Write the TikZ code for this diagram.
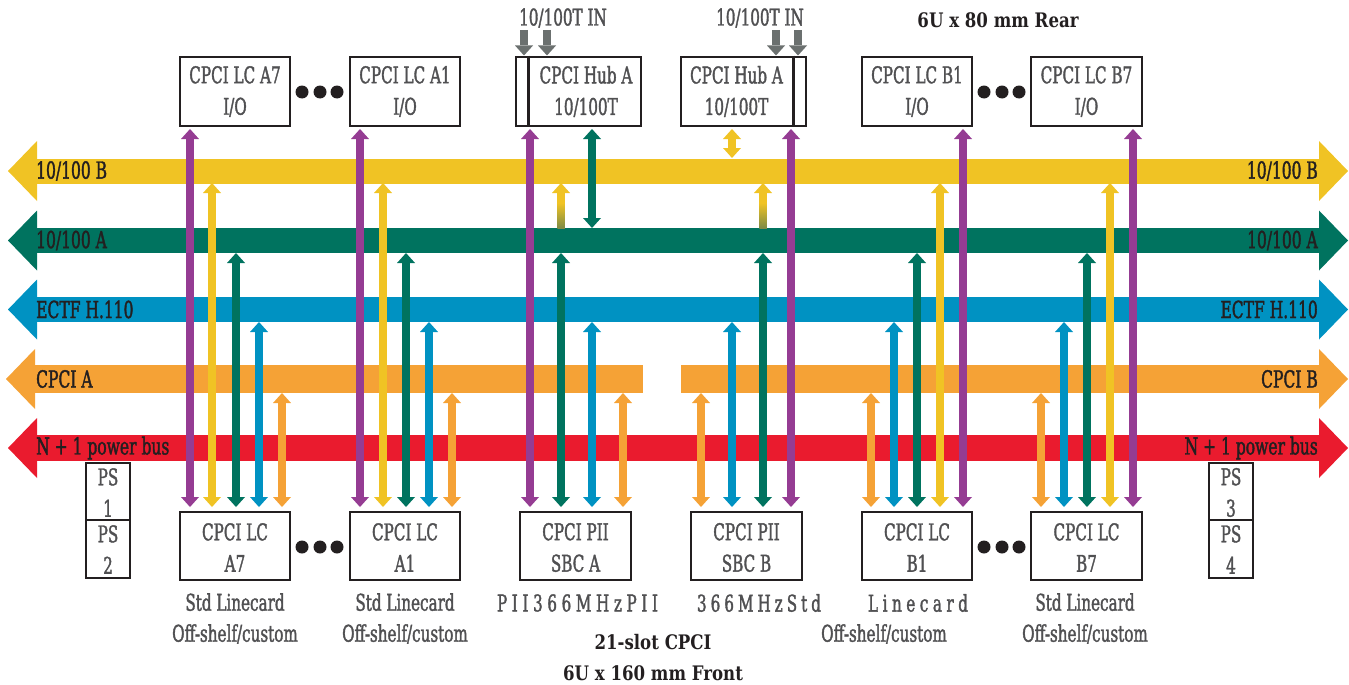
\documentclass[tikz,border=0pt]{standalone}
\usepackage{fontspec}
\setmainfont{DejaVu Serif}[FakeStretch=0.66,FakeBold=1.5]
\newfontfamily\capfont{DejaVu Serif}[FakeStretch=0.83]
\usetikzlibrary{arrows.meta}
\definecolor{cyel}{HTML}{F0C324}
\definecolor{cgrn}{HTML}{00735F}
\definecolor{cblu}{HTML}{0092C2}
\definecolor{corg}{HTML}{F5A236}
\definecolor{cred}{HTML}{EA1B2E}
\definecolor{cpur}{HTML}{953C93}
\definecolor{cgry}{HTML}{6B706F}
\definecolor{ctxt}{HTML}{505052}
\definecolor{cdark}{HTML}{231F20}
\definecolor{colive}{HTML}{7E8B45}
\tikzset{
  bus/.style={line width=25pt},
  bothtips/.style={arrows={Triangle[length=29pt,width=60pt,line width=0pt]-Triangle[length=29pt,width=60pt,line width=0pt]}},
  lefttip/.style={arrows={Triangle[length=29pt,width=60pt,line width=0pt]-}},
  righttip/.style={arrows={-Triangle[length=29pt,width=60pt,line width=0pt]}},
  vline/.style={line width=7.5pt},
  dbl/.style={vline,arrows={Triangle[length=10pt,width=18pt,line width=0pt]-Triangle[length=10pt,width=18pt,line width=0pt]}},
  upar/.style={vline,arrows={-Triangle[length=10pt,width=18pt,line width=0pt]}},
  grayar/.style={line width=8pt,draw=cgry,arrows={-Triangle[length=10pt,width=18pt,line width=0pt]}},
  buslbl/.style={inner sep=0pt,text=cdark,font=\fontsize{23.5}{26}\selectfont},
  box/.style={draw=cdark,line width=2.8pt,inner sep=0pt},
  boxtxt/.style={inner sep=0pt,text=ctxt,align=center,font=\fontsize{23}{31.5}\selectfont},
  captxt/.style={inner sep=0pt,text=ctxt,align=center,font=\fontsize{23}{31}\selectfont},
  boldtxt/.style={inner sep=0pt,text=cdark,font=\capfont\bfseries\fontsize{20}{24}\selectfont},
  dot/.style={circle,fill=cdark,inner sep=0pt,minimum size=13pt},
}
\begin{document}
\begin{tikzpicture}[x=1pt,y=-1pt]
\useasboundingbox (0,0) rectangle (1349,685);

% ---------- buses ----------
\draw[bus,cyel,bothtips] (8,171) -- (1348,171);
\draw[bus,cgrn,bothtips] (8,240.5) -- (1348,240.5);
\draw[bus,cblu,bothtips] (8,309.5) -- (1348,309.5);
\draw[bus,corg,line width=28pt,lefttip] (6,379) -- (643,379);
\draw[bus,corg,line width=28pt,righttip] (681,379) -- (1348,379);
\draw[bus,cred,line width=26pt,bothtips] (8,448) -- (1348,448);

\node[buslbl,anchor=west] (lyBl) at (36,171) {10/100 B};
\node[buslbl,anchor=east] (lyBr) at (1318,171) {10/100 B};
\node[buslbl,anchor=west] (lyAl) at (36,240.5) {10/100 A};
\node[buslbl,anchor=east] (lyAr) at (1318,240.5) {10/100 A};
\node[buslbl,anchor=west] (lhl) at (36,309.5) {ECTF H.110};
\node[buslbl,anchor=east] (lhr) at (1318,309.5) {ECTF H.110};
\node[buslbl,anchor=west] (lcA) at (36,379) {CPCI A};
\node[buslbl,anchor=east] (lcB) at (1318,379) {CPCI B};
\node[buslbl,anchor=west] (lpl) at (36,448) {N + 1 power bus};
\node[buslbl,anchor=east] (lpr) at (1318,448) {N + 1 power bus};

% ---------- top boxes ----------
\node[box,minimum width=110pt,minimum height=69pt] (tA7) at (235,91.5) {};
\node[boxtxt] (tA7t) at (235,91.5) {CPCI LC A7\\I/O};
\node[box,minimum width=110pt,minimum height=69pt] (tA1) at (405,91.5) {};
\node[boxtxt] (tA1t) at (405,91.5) {CPCI LC A1\\I/O};
\node[box,minimum width=125pt,minimum height=69pt] (hubL) at (578.5,91.5) {};
\draw[draw=cdark,line width=2.8pt] ([xshift=14pt]hubL.north west) -- ([xshift=14pt]hubL.south west);
\node[boxtxt] (hubLt) at (586,91.5) {CPCI Hub A\\10/100T};
\node[box,minimum width=125pt,minimum height=69pt] (hubR) at (743.5,91.5) {};
\draw[draw=cdark,line width=2.8pt] ([xshift=-14pt]hubR.north east) -- ([xshift=-14pt]hubR.south east);
\node[boxtxt] (hubRt) at (736.5,91.5) {CPCI Hub A\\10/100T};
\node[box,minimum width=110pt,minimum height=69pt] (tB1) at (917,91.5) {};
\node[boxtxt] (tB1t) at (917,91.5) {CPCI LC B1\\I/O};
\node[box,minimum width=111pt,minimum height=69pt] (tB7) at (1086.5,91.5) {};
\node[boxtxt] (tB7t) at (1086.5,91.5) {CPCI LC B7\\I/O};

\node[dot] (td1) at (302,92) {};
\node[dot] (td2) at (320,92) {};
\node[dot] (td3) at (337,92) {};
\node[dot] (td4) at (984,92) {};
\node[dot] (td5) at (1002,92) {};
\node[dot] (td6) at (1019,92) {};

% 10/100T IN
\node[inner sep=0pt,text=ctxt,font=\fontsize{23}{26}\selectfont] (inL) at (563,18) {10/100T IN};
\node[inner sep=0pt,text=ctxt,font=\fontsize{23}{26}\selectfont] (inR) at (760,18) {10/100T IN};
\coordinate (gA) at (524,30); \coordinate (gB) at (547,30);
\coordinate (gC) at (776,30); \coordinate (gD) at (798,30);
\draw[grayar] (gA) -- (524,55.5);
\draw[grayar] (gB) -- (547,55.5);
\draw[grayar] (gC) -- (776,55.5);
\draw[grayar] (gD) -- (798,55.5);

\node[boldtxt] (rear) at (998,20) {6U x 80 mm Rear};

% ---------- bottom boxes ----------
\node[box,minimum width=110pt,minimum height=68pt] (bA7) at (235,546) {};
\node[boxtxt] (bA7t) at (235,547.5) {CPCI LC\\A7};
\node[box,minimum width=110pt,minimum height=68pt] (bA1) at (405,546) {};
\node[boxtxt] (bA1t) at (405,547.5) {CPCI LC\\A1};
\node[box,minimum width=111pt,minimum height=68pt] (sbcA) at (575.5,546) {};
\node[boxtxt] (sbcAt) at (575.5,547.5) {CPCI PII\\SBC A};
\node[box,minimum width=111pt,minimum height=68pt] (sbcB) at (746.5,546) {};
\node[boxtxt] (sbcBt) at (746.5,547.5) {CPCI PII\\SBC B};
\node[box,minimum width=110pt,minimum height=68pt] (bB1) at (917,546) {};
\node[boxtxt] (bB1t) at (917,547.5) {CPCI LC\\B1};
\node[box,minimum width=111pt,minimum height=68pt] (bB7) at (1086.5,546) {};
\node[boxtxt] (bB7t) at (1086.5,547.5) {CPCI LC\\B7};

\node[dot] (bd1) at (302,547) {};
\node[dot] (bd2) at (320,547) {};
\node[dot] (bd3) at (337,547) {};
\node[dot] (bd4) at (984,547) {};
\node[dot] (bd5) at (1002,547) {};
\node[dot] (bd6) at (1019,547) {};

% PS boxes
\node[box,minimum width=44pt,minimum height=57pt] (ps1) at (108,491.5) {};
\node[boxtxt] (ps1t) at (108,492.5) {PS\\1};
\node[box,minimum width=44pt,minimum height=58pt] (ps2) at (108,549) {};
\node[boxtxt] (ps2t) at (108,549.5) {PS\\2};
\node[box,minimum width=44pt,minimum height=57pt] (ps3) at (1231,491.5) {};
\node[boxtxt] (ps3t) at (1231,492.5) {PS\\3};
\node[box,minimum width=44pt,minimum height=58pt] (ps4) at (1231,549) {};
\node[boxtxt] (ps4t) at (1231,549.5) {PS\\4};

% captions
\node[captxt] (c1) at (235,618.5) {Std Linecard\\Off-shelf/custom};
\node[captxt] (c2) at (405,618.5) {Std Linecard\\Off-shelf/custom};
\node[captxt] (c3) at (577.5,603) {\hbox to 161pt{P\hfil I\hfil I\hfil 3\hfil 6\hfil 6\hfil M\hfil H\hfil z\hfil P\hfil I\hfil I}};
\node[captxt] (c4) at (759,603) {\hbox to 124pt{3\hfil 6\hfil 6\hfil M\hfil H\hfil z\hfil S\hfil t\hfil d}};
\node[captxt] (c5) at (918,603) {\hbox to 100pt{L\hfil i\hfil n\hfil e\hfil c\hfil a\hfil r\hfil d}};
\node[captxt] (c6) at (884,634) {Off-shelf/custom};
\node[captxt] (c7) at (1085,618.5) {Std Linecard\\Off-shelf/custom};
\node[boldtxt] (f1) at (653,642) {21-slot CPCI};
\node[boldtxt] (f2) at (653,673) {6U x 160 mm Front};

% ---------- vertical connectors ----------
% A7 group
\draw[dbl,cpur] (190,129) -- (190,507);
\draw[dbl,cyel] (212,183) -- (212,507);
\draw[dbl,cgrn] (236,253) -- (236,507);
\draw[dbl,cblu] (259,322) -- (259,507);
\draw[dbl,corg] (282,393) -- (282,507);
% A1 group
\draw[dbl,cpur] (360,129) -- (360,507);
\draw[dbl,cyel] (383,183) -- (383,507);
\draw[dbl,cgrn] (406,253) -- (406,507);
\draw[dbl,cblu] (429,322) -- (429,507);
\draw[dbl,corg] (452,393) -- (452,507);
% SBC A / Hub A (left)
\draw[dbl,cpur] (530,129) -- (530,507);
\draw[dbl,cgrn] (561,253) -- (561,507);
\draw[dbl,cgrn] (592,129) -- (592,228);
\draw[dbl,cblu] (592,322) -- (592,507);
\draw[dbl,corg] (623,393) -- (623,507);
\shade[top color=cyel,bottom color=colive] (557.25,203) rectangle (564.75,228);
\draw[upar,cyel] (561,204) -- (561,183);
% SBC B / Hub A (right)
\draw[dbl,corg] (701,393) -- (701,507);
\draw[dbl,cblu] (732,322) -- (732,507);
\draw[dbl,cyel] (732,129) -- (732,158);
\draw[dbl,cgrn] (763,253) -- (763,507);
\shade[top color=cyel,bottom color=colive] (759.25,203) rectangle (766.75,228);
\draw[upar,cyel] (763,204) -- (763,183);
\draw[dbl,cpur] (791,129) -- (791,507);
% B1 group
\draw[dbl,corg] (871,393) -- (871,507);
\draw[dbl,cblu] (894,322) -- (894,507);
\draw[dbl,cgrn] (917,253) -- (917,507);
\draw[dbl,cyel] (940,183) -- (940,507);
\draw[dbl,cpur] (963,129) -- (963,507);
% B7 group
\draw[dbl,corg] (1041,393) -- (1041,507);
\draw[dbl,cblu] (1064,322) -- (1064,507);
\draw[dbl,cgrn] (1087,253) -- (1087,507);
\draw[dbl,cyel] (1110,183) -- (1110,507);
\draw[dbl,cpur] (1133,129) -- (1133,507);
\end{tikzpicture}
\end{document}
